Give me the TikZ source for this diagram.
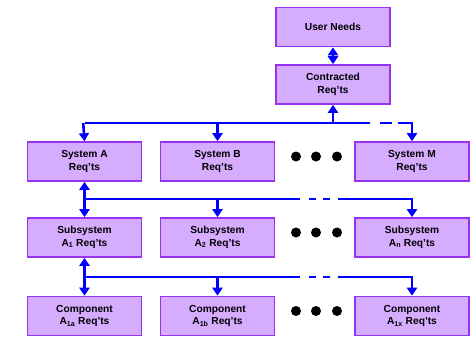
\documentclass[tikz,border=0pt]{standalone}
\usepackage{fontspec}
\setmainfont{Liberation Sans}
\usetikzlibrary{arrows.meta}
\definecolor{boxfill}{RGB}{214,172,255}
\definecolor{boxline}{RGB}{150,50,240}
\definecolor{buscol}{RGB}{0,0,255}
\begin{document}
\begin{tikzpicture}[x=1pt,y=-1pt,
  req/.style={draw=boxline,fill=boxfill,line width=1.6pt,minimum width=114pt,minimum height=39pt,
    inner sep=0pt,align=center,font=\fontsize{10.2}{12.3}\selectfont\bfseries},
  bus/.style={draw=buscol,line width=2.6pt},
  tip/.style={bus,-{Triangle[width=10pt,length=8pt]}},
  dtip/.style={bus,{Triangle[width=10pt,length=8pt]}-{Triangle[width=10pt,length=8pt]}},
  dot/.style={circle,fill=black,inner sep=0pt,minimum size=10pt}]
\useasboundingbox (0,0) rectangle (472,338);
% boxes
\node[req] (un) at (333,27) {User Needs};
\node[req] (cr) at (333,84.5) {Contracted\\Req'ts};
\node[req] (sa) at (84.5,161.5) {System A\\Req'ts};
\node[req] (sb) at (217.5,161.5) {System B\\Req'ts};
\node[req] (sm) at (412,161.5) {System M\\Req'ts};
\node[req] (s1) at (84.5,237.5) {Subsystem\\A\textsubscript{1} Req'ts};
\node[req] (s2) at (217.5,237.5) {Subsystem\\A\textsubscript{2} Req'ts};
\node[req] (sn) at (412,237.5) {Subsystem\\A\textsubscript{n} Req'ts};
\node[req] (c1) at (84.5,316) {Component\\A\textsubscript{1a} Req'ts};
\node[req] (c2) at (217.5,316) {Component\\A\textsubscript{1b} Req'ts};
\node[req] (cx) at (412,316) {Component\\A\textsubscript{1x} Req'ts};
% dots
\foreach \r/\y in {1/156.5,2/232.5,3/311}{
  \node[dot] (d\r a) at (296,\y) {};
  \node[dot] (d\r b) at (316,\y) {};
  \node[dot] (d\r c) at (337,\y) {};
}
% top link
\draw[dtip] (un.south) -- (cr.north);
% bus 1
\coordinate (b1a) at (84.5,123);
\coordinate (b1b) at (217.5,123);
\coordinate (b1c) at (333,123);
\coordinate (b1e) at (370,123);
\coordinate (b1f) at (380,123);
\coordinate (b1g) at (392,123);
\coordinate (b1h) at (398,123);
\coordinate (b1m) at (412,123);
\draw[tip] (b1c) -- (cr.south);
\draw[bus] (b1a) -- (b1e);
\draw[bus] (b1f) -- (b1g);
\draw[tip] (b1h) -- (b1m) -- (sm.north);
\draw[tip] ([xshift=-1.3pt]b1a) -- (sa.north);
\draw[tip] (b1b) -- (sb.north);
% bus 2
\coordinate (b2a) at (84.5,199);
\coordinate (b2b) at (217.5,199);
\coordinate (b2e) at (300,199);
\coordinate (b2f) at (309,199);
\coordinate (b2g) at (316,199);
\coordinate (b2h) at (323,199);
\coordinate (b2i) at (330,199);
\coordinate (b2j) at (338,199);
\coordinate (b2m) at (412,199);
\draw[dtip] (sa.south) -- (s1.north);
\draw[bus] (b2a) -- (b2e);
\draw[bus] (b2f) -- (b2g);
\draw[bus] (b2h) -- (b2i);
\draw[tip] (b2j) -- (b2m) -- (sn.north);
\draw[tip] (b2b) -- (s2.north);
% bus 3
\coordinate (b3a) at (84.5,277);
\coordinate (b3b) at (217.5,277);
\coordinate (b3e) at (300,277);
\coordinate (b3f) at (309,277);
\coordinate (b3g) at (316,277);
\coordinate (b3h) at (323,277);
\coordinate (b3i) at (330,277);
\coordinate (b3j) at (338,277);
\coordinate (b3m) at (412,277);
\draw[dtip] (s1.south) -- (c1.north);
\draw[bus] (b3a) -- (b3e);
\draw[bus] (b3f) -- (b3g);
\draw[bus] (b3h) -- (b3i);
\draw[tip] (b3j) -- (b3m) -- (cx.north);
\draw[tip] (b3b) -- (c2.north);
\end{tikzpicture}
\end{document}
